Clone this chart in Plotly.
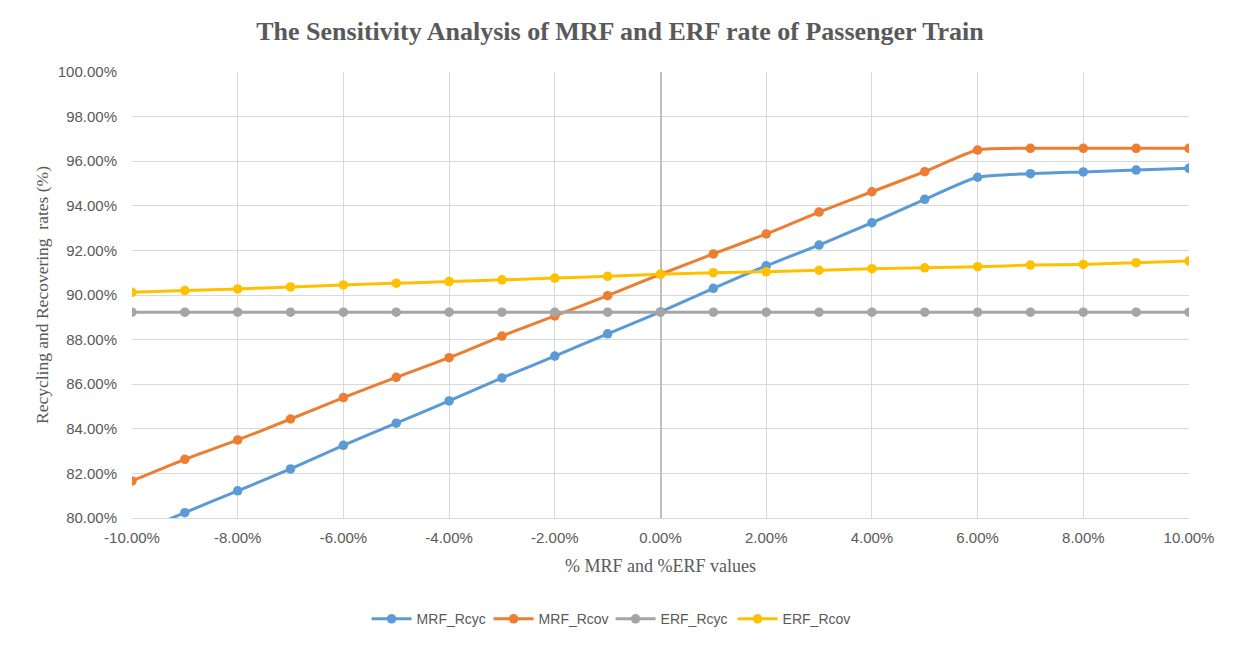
import plotly.graph_objects as go

x_vals = [-0.10, -0.09, -0.08, -0.07, -0.06, -0.05, -0.04, -0.03, -0.02, -0.01, 0.0,
          0.01, 0.02, 0.03, 0.04, 0.05, 0.06, 0.07, 0.08, 0.09, 0.10]

mrf_rcyc = [0.7925, 0.8024, 0.8122, 0.8220, 0.8326, 0.8425, 0.8525, 0.8628, 0.8726, 0.8826, 0.8924,
            0.9030, 0.9131, 0.9224, 0.9324, 0.9429, 0.9528, 0.9544, 0.9552, 0.9560, 0.9568]
mrf_rcov = [0.8166, 0.8263, 0.8350, 0.8444, 0.8540, 0.8631, 0.8719, 0.8816, 0.8906, 0.8997, 0.9093,
            0.9184, 0.9274, 0.9372, 0.9463, 0.9553, 0.9650, 0.9658, 0.9658, 0.9658, 0.9658]
erf_rcyc = [0.8923] * 21
erf_rcov = [0.9012, 0.9020, 0.9027, 0.9036, 0.9045, 0.9053, 0.9060, 0.9068, 0.9076, 0.9084, 0.9093,
            0.9100, 0.9104, 0.9111, 0.9118, 0.9122, 0.9127, 0.9134, 0.9137, 0.9145, 0.9152]

x_tick_vals = [-0.10, -0.08, -0.06, -0.04, -0.02, 0.0, 0.02, 0.04, 0.06, 0.08, 0.10]
x_tick_text = ["-10.00%", "-8.00%", "-6.00%", "-4.00%", "-2.00%", "0.00%",
               "2.00%", "4.00%", "6.00%", "8.00%", "10.00%"]

series = [
    ("MRF_Rcyc", mrf_rcyc, "#5B9BD5"),
    ("MRF_Rcov", mrf_rcov, "#ED7D31"),
    ("ERF_Rcyc", erf_rcyc, "#A5A5A5"),
    ("ERF_Rcov", erf_rcov, "#FFC000"),
]

fig = go.Figure()
for name, vals, color in series:
    fig.add_trace(go.Scatter(
        x=x_vals, y=vals, name=name, mode="lines+markers",
        line=dict(color=color, width=3, shape="spline", smoothing=0.6),
        marker=dict(color=color, size=9.5),
        cliponaxis=True,
    ))

tick_font = dict(family="Liberation Sans, Arial, sans-serif", size=15, color="#595959")
serif = "Liberation Serif, Times New Roman, serif"

fig.update_layout(
    width=1235, height=649,
    paper_bgcolor="white", plot_bgcolor="white",
    margin=dict(l=124, r=54, t=64, b=139),
    title=dict(
        text="<b>The Sensitivity Analysis of MRF and ERF rate of Passenger Train</b>",
        font=dict(family=serif, size=26, color="#595959"),
        x=0.4617, xanchor="center", xref="paper", y=0.9646, yanchor="middle",
    ),
    xaxis=dict(
        range=[-0.10, 0.10], tickvals=x_tick_vals, ticktext=x_tick_text,
        tickfont=tick_font,
        showgrid=True, gridcolor="#D9D9D9", gridwidth=1,
        zeroline=True, zerolinecolor="#BFBFBF", zerolinewidth=2,
        showline=True, linecolor="#D9D9D9", linewidth=1, mirror=False,
        ticks="", ticklabelstandoff=6,
        title=dict(text="% MRF and %ERF values",
                   font=dict(family=serif, size=18, color="#595959"),
                   standoff=14),
    ),
    yaxis=dict(
        range=[0.80, 1.00], dtick=0.02, tickformat=".2%", tickfont=tick_font,
        showgrid=True, gridcolor="#D9D9D9", gridwidth=1,
        zeroline=False, showline=False, ticks="", ticklabelstandoff=14,
        title=dict(text="Recycling and Recovering  rates (%)",
                   font=dict(family=serif, size=17.5, color="#595959"),
                   standoff=4),
    ),
    legend=dict(
        orientation="h", x=0.4528, xanchor="center", y=-0.227, yanchor="middle",
        font=dict(family="Liberation Sans, Arial, sans-serif", size=14, color="#595959"),
        itemwidth=40, entrywidth=67, bgcolor="rgba(0,0,0,0)",
    ),
    showlegend=True,
)

fig.write_html("out.html")
